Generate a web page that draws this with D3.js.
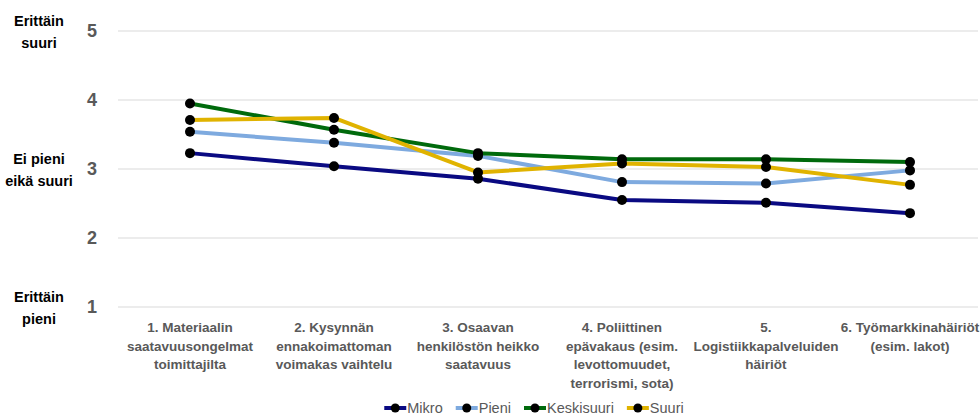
<!DOCTYPE html>
<html>
<head>
<meta charset="utf-8">
<script src="https://cdn.jsdelivr.net/npm/d3@7"></script>
<style>
  body { margin: 0; background: #fff; }
  svg { display: block; }
</style>
</head>
<body>
<div id="chart"></div>
<script>
var categories = [
    ["1. Materiaalin", "saatavuusongelmat", "toimittajilta"],
    ["2. Kysynnän", "ennakoimattoman", "voimakas vaihtelu"],
    ["3. Osaavan", "henkilöstön heikko", "saatavuus"],
    ["4. Poliittinen", "epävakaus (esim.", "levottomuudet,", "terrorismi, sota)"],
    ["5.", "Logistiikkapalveluiden", "häiriöt"],
    ["6. Työmarkkinahäiriöt", "(esim. lakot)"]
];
var seriesNames = ["Mikro", "Pieni", "Keskisuuri", "Suuri"];
var mikro      = [3.23, 3.04, 2.86, 2.55, 2.51, 2.36];
var pieni      = [3.54, 3.38, 3.19, 2.81, 2.79, 2.98];
var keskisuuri = [3.95, 3.57, 3.23, 3.14, 3.14, 3.10];
var suuri      = [3.71, 3.74, 2.95, 3.08, 3.03, 2.77];
var yTicks = [1, 2, 3, 4, 5];
var yTexts = [
    {v: 5, lines: ["Erittäin", "suuri"]},
    {v: 3, lines: ["Ei pieni", "eikä suuri"]},
    {v: 1, lines: ["Erittäin", "pieni"]}
];

function init(){
    var w = 980;
    var h = 417;
    var colors = ["#0a0a82", "#7eaadf", "#006a0c", "#e0b300"];
    var allSeries = [mikro, pieni, keskisuuri, suuri];

    var svg = d3.select("#chart")
                .append("svg")
                .attr("width", w)
                .attr("height", h);

    var xscale = d3.scalePoint()
                    .domain(d3.range(categories.length))
                    .range([190, 910]);

    var yscale = d3.scaleLinear()
                    .domain([1, 5])
                    .range([307, 31]);

    // gridlines
    svg.append("g")
        .selectAll("line")
        .data(yTicks)
        .enter()
        .append("line")
        .attr("x1", 118)
        .attr("x2", 978)
        .attr("y1", function(d) { return yscale(d); })
        .attr("y2", function(d) { return yscale(d); })
        .attr("stroke", "#d9d9d9")
        .attr("stroke-width", 1);

    // y tick numbers
    svg.append("g")
        .selectAll("text")
        .data(yTicks)
        .enter()
        .append("text")
        .text(function(d) { return d; })
        .attr("x", 97)
        .attr("y", function(d) { return yscale(d); })
        .attr("dy", "0.36em")
        .attr("text-anchor", "end")
        .style("font-family", "'Liberation Sans', Arial, sans-serif")
        .style("font-weight", "bold")
        .style("font-size", "18px")
        .attr("fill", "#595959");

    // y descriptive labels
    var yt = svg.append("g")
        .selectAll("text")
        .data(yTexts)
        .enter()
        .append("text")
        .attr("text-anchor", "middle")
        .style("font-family", "'Liberation Sans', Arial, sans-serif")
        .style("font-weight", "bold")
        .style("font-size", "14.5px")
        .attr("fill", "#000");
    yt.selectAll("tspan")
        .data(function(d) {
            return d.lines.map(function(l, i) { return {l: l, i: i, v: d.v}; });
        })
        .enter()
        .append("tspan")
        .attr("x", 39)
        .attr("y", function(d) { return yscale(d.v) - 10 + d.i * 21.5; })
        .attr("dy", "0.36em")
        .text(function(d) { return d.l; });

    // x category labels
    var xt = svg.append("g")
        .selectAll("text")
        .data(categories)
        .enter()
        .append("text")
        .attr("text-anchor", "middle")
        .style("font-family", "'Liberation Sans', Arial, sans-serif")
        .style("font-weight", "bold")
        .style("font-size", "13.5px")
        .attr("fill", "#595959");
    xt.selectAll("tspan")
        .data(function(d, j) {
            return d.map(function(l, i) { return {l: l, i: i, j: j}; });
        })
        .enter()
        .append("tspan")
        .attr("x", function(d) { return xscale(d.j); })
        .attr("y", function(d) { return 327 + d.i * 18.7; })
        .attr("dy", "0.36em")
        .text(function(d) { return d.l; });

    var line = d3.line()
        .x(function(d, i) { return xscale(i); })
        .y(function(d) { return yscale(d); });

    allSeries.forEach(function(s, k) {
        svg.append("path")
            .datum(s)
            .attr("d", line)
            .attr("fill", "none")
            .attr("stroke", colors[k])
            .attr("stroke-width", 4)
            .attr("stroke-linejoin", "round");
    });
    allSeries.forEach(function(s, k) {
        svg.append("g")
            .selectAll("circle")
            .data(s)
            .enter()
            .append("circle")
            .attr("cx", function(d, i) { return xscale(i); })
            .attr("cy", function(d) { return yscale(d); })
            .attr("r", 5)
            .attr("fill", "#000");
    });

    // legend
    var legend = svg.append("g");
    var lx = 0;
    seriesNames.forEach(function(name, k) {
        var g = legend.append("g").attr("transform", "translate(" + lx + ",0)");
        g.append("line")
            .attr("x1", 0).attr("x2", 22)
            .attr("y1", 0).attr("y2", 0)
            .attr("stroke", colors[k])
            .attr("stroke-width", 4);
        g.append("circle")
            .attr("cx", 11).attr("cy", 0).attr("r", 4.5)
            .attr("fill", "#000");
        var t = g.append("text")
            .text(name)
            .attr("x", 23)
            .attr("dy", "0.36em")
            .style("font-family", "'Liberation Sans', Arial, sans-serif")
            .style("font-size", "14.5px")
            .attr("fill", "#595959");
        lx += 23 + t.node().getComputedTextLength() + 13;
    });
    var lw = lx - 13;
    legend.attr("transform", "translate(" + (534 - lw / 2) + ",408)");
}
window.onload = init;
</script>
</body>
</html>
